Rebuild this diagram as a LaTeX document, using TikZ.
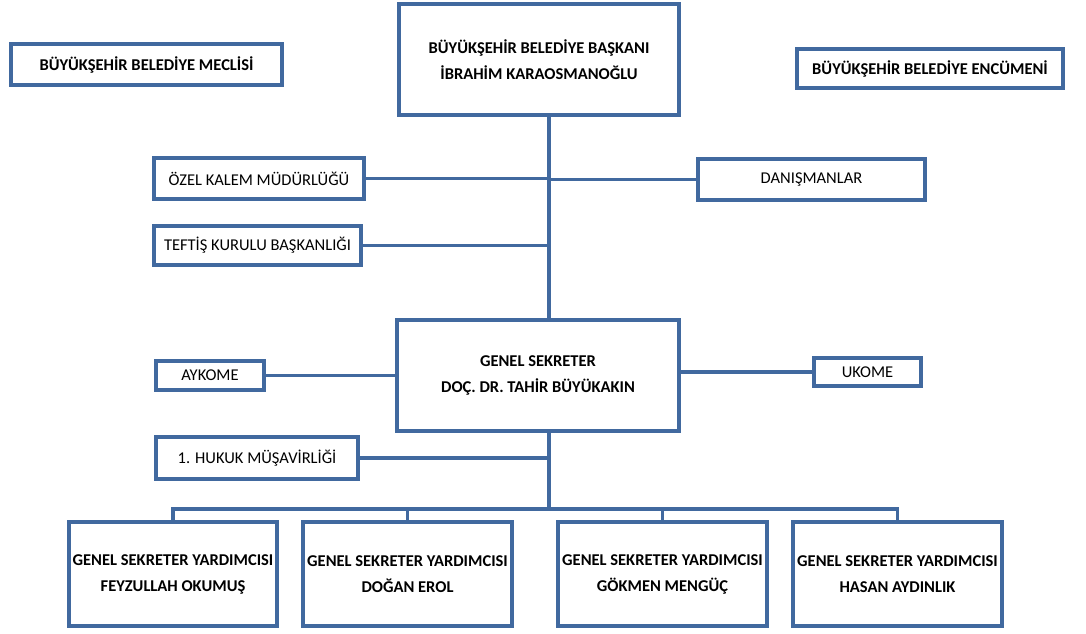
\documentclass[tikz,border=0pt]{standalone}
\usepackage{fontspec}
\setmainfont{Carlito}
\definecolor{orgblue}{HTML}{41699F}
\tikzset{
  unit/.style={draw=orgblue, line width=3.6pt, fill=white, inner sep=0pt, align=center, font=\fontsize{16.5}{26}\selectfont},
  head/.style={unit, font=\bfseries\fontsize{16.5}{26}\selectfont},
  link/.style={draw=orgblue, line width=3.6pt}
}
\begin{document}
\begin{tikzpicture}[x=1pt, y=-1pt]
\useasboundingbox[fill=white] (0,0) rectangle (1086,633);
\coordinate (trunk) at (549,0);
\coordinate (bus) at (0,509);

\draw[link] (trunk |- 0,117) -- (trunk |- 0,318);
\draw[link] (trunk |- 0,433) -- (trunk |- bus);

\node[head, minimum width=271, minimum height=41] (meclis) at (146.5,64.5) {BÜYÜKŞEHİR BELEDİYE MECLİSİ};
\node[head, minimum width=280, minimum height=111] (baskan) at (539,59.5) {BÜYÜKŞEHİR BELEDİYE BAŞKANI\\İBRAHİM KARAOSMANOĞLU};
\node[head, minimum width=266, minimum height=39] (encumen) at (930,68.5) {BÜYÜKŞEHİR BELEDİYE ENCÜMENİ};

\node[unit, minimum width=210, minimum height=41] (ozel) at (259,178.5) {ÖZEL KALEM MÜDÜRLÜĞÜ};
\node[unit, minimum width=227, minimum height=41] (danis) at (811.5,179.5) {DANIŞMANLAR};
\node[unit, minimum width=207, minimum height=39] (teftis) at (257.5,245.5) {TEFTİŞ KURULU BAŞKANLIĞI};

\node[head, minimum width=282, minimum height=111] (gs) at (538,375.5) {GENEL SEKRETER\\DOÇ. DR. TAHİR BÜYÜKAKIN};
\node[unit, minimum width=108, minimum height=29] (aykome) at (210,375.5) {AYKOME};
\node[unit, minimum width=107, minimum height=28] (ukome) at (867.5,372) {UKOME};
\node[unit, minimum width=202, minimum height=42] (hukuk) at (257,458) {1. HUKUK MÜŞAVİRLİĞİ};

\node[head, minimum width=208, minimum height=104] (gsy1) at (173,574) {GENEL SEKRETER YARDIMCISI\\FEYZULLAH OKUMUŞ};
\node[head, minimum width=209, minimum height=104] (gsy2) at (407.5,574) {GENEL SEKRETER YARDIMCISI\\DOĞAN EROL};
\node[head, minimum width=209, minimum height=104] (gsy3) at (662.5,574) {GENEL SEKRETER YARDIMCISI\\GÖKMEN MENGÜÇ};
\node[head, minimum width=209, minimum height=104] (gsy4) at (897.5,574) {GENEL SEKRETER YARDIMCISI\\HASAN AYDINLIK};

\draw[link] (ozel.east) -- (ozel.east -| trunk);
\draw[link] (danis.west) -- (danis.west -| trunk);
\draw[link] (teftis.east) -- (teftis.east -| trunk);
\draw[link] (aykome.east) -- (gs.west |- aykome.east);
\draw[link] (ukome.west) -- (gs.east |- ukome.west);
\draw[link] (hukuk.east) -- (hukuk.east -| trunk);
\draw[link] (gsy1.north) -- (gsy1.north |- bus) -- (gsy4.north |- bus) -- (gsy4.north);
\draw[link] (gsy2.north) -- (gsy2.north |- bus);
\draw[link] (gsy3.north) -- (gsy3.north |- bus);
\end{tikzpicture}
\end{document}
